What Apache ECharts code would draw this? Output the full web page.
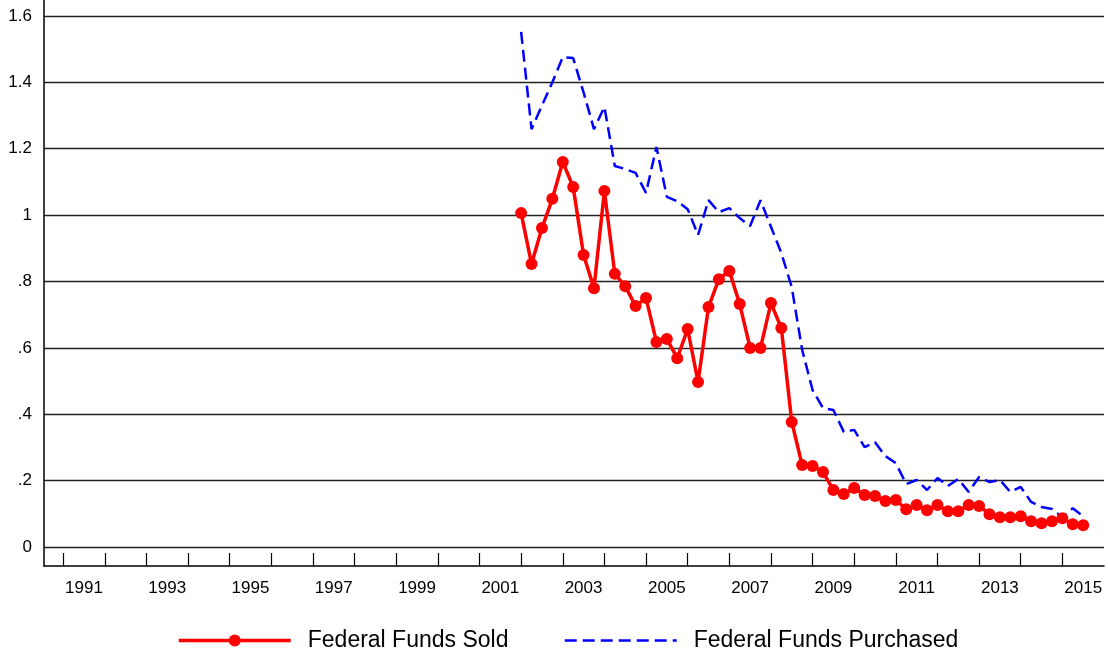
<!DOCTYPE html>
<html>
<head>
<meta charset="utf-8">
<title>Federal Funds</title>
<script src="https://cdn.jsdelivr.net/npm/echarts@6/dist/echarts.min.js"></script>
<style>
  html, body { margin: 0; padding: 0; background: #fff; }
  #chart { width: 1108px; height: 656px; }
</style>
</head>
<body>
<div id="chart"></div>
<script>
// quarterly observations
const quarters = [
  '2002Q1', '2002Q2', '2002Q3', '2002Q4', '2003Q1', '2003Q2', '2003Q3', '2003Q4',
  '2004Q1', '2004Q2', '2004Q3', '2004Q4', '2005Q1', '2005Q2', '2005Q3', '2005Q4',
  '2006Q1', '2006Q2', '2006Q3', '2006Q4', '2007Q1', '2007Q2', '2007Q3', '2007Q4',
  '2008Q1', '2008Q2', '2008Q3', '2008Q4', '2009Q1', '2009Q2', '2009Q3', '2009Q4',
  '2010Q1', '2010Q2', '2010Q3', '2010Q4', '2011Q1', '2011Q2', '2011Q3', '2011Q4',
  '2012Q1', '2012Q2', '2012Q3', '2012Q4', '2013Q1', '2013Q2', '2013Q3', '2013Q4',
  '2014Q1', '2014Q2', '2014Q3', '2014Q4', '2015Q1', '2015Q2', '2015Q3'
]
const fedFundsSold = [
  1.006, 0.853, 0.961, 1.049, 1.160, 1.085, 0.880, 0.780,
  1.073, 0.823, 0.786, 0.726, 0.750, 0.618, 0.627, 0.569,
  0.657, 0.497, 0.723, 0.807, 0.832, 0.732, 0.600, 0.600,
  0.735, 0.660, 0.377, 0.247, 0.244, 0.226, 0.172, 0.160,
  0.178, 0.157, 0.154, 0.139, 0.142, 0.114, 0.127, 0.111,
  0.127, 0.108, 0.108, 0.127, 0.124, 0.099, 0.090, 0.090,
  0.093, 0.078, 0.072, 0.078, 0.087, 0.069, 0.066
]
const fedFundsPurchased = [
  1.552, 1.259, 1.330, 1.400, 1.476, 1.473, 1.370, 1.259,
  1.326, 1.148, 1.139, 1.127, 1.067, 1.205, 1.055, 1.042,
  1.018, 0.940, 1.045, 1.009, 1.021, 0.991, 0.967, 1.045,
  0.965, 0.886, 0.783, 0.594, 0.473, 0.419, 0.413, 0.347,
  0.353, 0.301, 0.316, 0.274, 0.253, 0.190, 0.202, 0.172,
  0.208, 0.184, 0.205, 0.166, 0.211, 0.196, 0.202, 0.166,
  0.181, 0.136, 0.121, 0.115, 0.090, 0.117, 0.093
]
// axis ticks and labels
const yearTicks = [
  1991, 1992, 1993, 1994, 1995, 1996, 1997, 1998, 1999, 2000, 2001, 2002, 2003,
  2004, 2005, 2006, 2007, 2008, 2009, 2010, 2011, 2012, 2013, 2014, 2015
]
const yearLabels = [1991, 1993, 1995, 1997, 1999, 2001, 2003, 2005, 2007, 2009, 2011, 2013, 2015]
const yTicks = [0, 0.2, 0.4, 0.6, 0.8, 1, 1.2, 1.4, 1.6]

// '2002Q3' -> 2002.5
const toYear = q => Number(q.slice(0, 4)) + (Number(q.slice(5)) - 1) / 4

const soldData = quarters.map((q, i) => [toYear(q), fedFundsSold[i]])
const purchasedData = quarters.map((q, i) => [toYear(q), fedFundsPurchased[i]])

const chart = echarts.init(document.getElementById('chart'))
const font = 'Liberation Sans, Arial, sans-serif'

const option = {
  animation: false,
  textStyle: { fontFamily: font },
  grid: {
    left: 44,
    right: 4,
    top: 0,
    bottom: 90
  },
  legend: {
    left: 172,
    top: 624,
    itemWidth: 112,
    itemHeight: 15,
    itemGap: 55,
    textStyle: {
      fontFamily: font,
      fontSize: 23,
      color: '#000',
      padding: [0, 0, 0, 12]
    },
    data: [
      { name: 'Federal Funds Sold', lineStyle: { width: 3.5 } },
      // dashed line only, no marker
      { name: 'Federal Funds Purchased', itemStyle: { opacity: 0 }, lineStyle: { width: 2.5 } }
    ]
  },
  xAxis: {
    type: 'value',
    min: 1990.54,
    max: 2016,
    axisLine: {
      onZero: false,
      lineStyle: { color: '#000', width: 1.5 }
    },
    axisTick: {
      inside: true,
      length: 13,
      customValues: yearTicks,
      lineStyle: { color: '#000', width: 1.2 }
    },
    axisLabel: {
      customValues: yearLabels.map(y => y + 0.5),
      formatter: v => String(Math.floor(v)),
      fontFamily: font,
      fontSize: 17,
      color: '#000',
      margin: 14
    },
    splitLine: { show: false }
  },
  yAxis: {
    type: 'value',
    min: -0.057,
    max: 1.648,
    axisLine: {
      show: true,
      lineStyle: { color: '#000', width: 1.5 }
    },
    axisTick: {
      show: false,
      customValues: yTicks
    },
    axisLabel: {
      customValues: yTicks,
      formatter: v => String(Math.round(v * 10) / 10).replace(/^0\./, '.'),
      fontFamily: font,
      fontSize: 17,
      color: '#000',
      margin: 12
    },
    splitLine: {
      show: true,
      lineStyle: { color: '#222', width: 1.3 }
    }
  },
  series: [
    {
      name: 'Federal Funds Sold',
      type: 'line',
      data: soldData,
      symbol: 'circle',
      symbolSize: 12,
      itemStyle: { color: '#ff0000' },
      lineStyle: { color: '#ff0000', width: 3.5 }
    },
    {
      name: 'Federal Funds Purchased',
      type: 'line',
      data: purchasedData,
      symbol: 'none',
      itemStyle: { color: '#0000ff' },
      lineStyle: { color: '#0000ff', width: 2.5, type: [12, 6] }
    }
  ]
}
chart.setOption(option)
</script>
</body>
</html>
